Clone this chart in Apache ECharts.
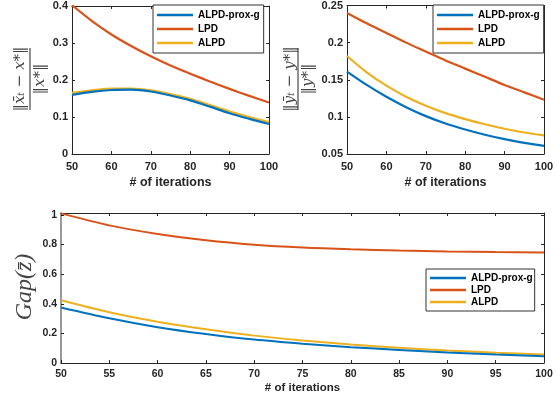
<!DOCTYPE html>
<html><head><meta charset="utf-8">
<script src="https://cdn.jsdelivr.net/npm/echarts@6/dist/echarts.min.js"></script>
<style>html,body{margin:0;padding:0;background:#fff}#c{width:557px;height:400px}</style>
</head><body><div id="c"></div>
<script>
const iters = [50,55,60,65,70,75,80,85,90,95,100];
const seriesNames = ['ALPD-prox-g','LPD','ALPD'];
const colors = ['#0072BD','#D95319','#EDB120'];
// top-left: ||x_t - x*|| / ||x*||
const xErrProxG = [0.160,0.168,0.173,0.174,0.169,0.158,0.145,0.128,0.110,0.095,0.081];
const xErrLPD   = [0.402,0.360,0.323,0.292,0.264,0.239,0.217,0.196,0.176,0.157,0.139];
const xErrALPD  = [0.165,0.172,0.177,0.177,0.172,0.162,0.149,0.132,0.115,0.100,0.086];
// top-right: ||y_t - y*|| / ||y*||
const yErrProxG = [0.161,0.143,0.127,0.113,0.101,0.091,0.083,0.076,0.070,0.065,0.061];
const yErrLPD   = [0.240,0.226,0.213,0.200,0.188,0.176,0.165,0.154,0.143,0.133,0.123];
const yErrALPD  = [0.182,0.160,0.142,0.127,0.115,0.105,0.097,0.090,0.084,0.079,0.075];
// bottom: Gap(z)
const gapProxG = [0.375,0.302,0.242,0.196,0.158,0.130,0.107,0.088,0.071,0.057,0.046];
const gapLPD   = [1.011,0.930,0.872,0.829,0.799,0.780,0.768,0.760,0.754,0.750,0.747];
const gapALPD  = [0.424,0.343,0.279,0.228,0.185,0.152,0.125,0.103,0.085,0.070,0.058];

const xTitle = '# of iterations';
const AX = '#262626';
const FONT = 'Liberation Sans, Arial, sans-serif';

function pairs(ys){ return iters.map((x,i)=>[x, ys[i]]); }

const grids = [
  {left:72, top:6, width:197, height:148},
  {left:347, top:5, width:197, height:149},
  {left:61, top:213, width:483, height:150}
];
const xCfg = [
  {min:50,max:100,interval:10,fs:11,margin:7,nameGap:22,nfs:12.5},
  {min:50,max:100,interval:10,fs:11,margin:7,nameGap:22,nfs:12.5},
  {min:50,max:100,interval:5,fs:10.5,margin:6,nameGap:19,nfs:11.5}
];
const yCfg = [
  {min:0,max:0.4,interval:0.1,fs:11},
  {min:0.05,max:0.25,interval:0.05,fs:11},
  {min:0,max:1.0135,interval:0.2,fs:10.5}
];

const xAxis = [], yAxis = [];
grids.forEach((g,i)=>{
  const xc = xCfg[i], yc = yCfg[i];
  xAxis.push({type:'value', gridIndex:i, position:'bottom', min:xc.min, max:xc.max, interval:xc.interval,
    name:xTitle, nameLocation:'middle', nameGap:xc.nameGap,
    nameTextStyle:{fontFamily:FONT, fontWeight:'bold', fontSize:xc.nfs, color:AX},
    axisLine:{show:true, lineStyle:{color:AX, width:1}},
    axisTick:{show:true, inside:true, length:3, lineStyle:{color:AX}},
    axisLabel:{fontFamily:FONT, fontWeight:'bold', fontSize:xc.fs, color:AX, margin:xc.margin},
    splitLine:{show:false}});
  xAxis.push({type:'value', gridIndex:i, position:'top', min:xc.min, max:xc.max, interval:xc.interval,
    axisLine:{show:true, onZero:false, lineStyle:{color:AX, width:1}},
    axisTick:{show:true, inside:true, length:3, lineStyle:{color:AX}},
    axisLabel:{show:false}, splitLine:{show:false}});
  yAxis.push({type:'value', gridIndex:i, position:'left', min:yc.min, max:yc.max, interval:yc.interval,
    axisLine:{show:true, onZero:false, lineStyle:{color: i===2 ? '#777' : AX, width: i===2 ? 1.5 : 1}},
    axisTick:{show:true, inside:true, length:3, lineStyle:{color:AX}},
    axisLabel:{fontFamily:FONT, fontWeight:'bold', fontSize:yc.fs, color:AX, margin:4,
      formatter:(v)=>{ const k=Math.round(v/yc.interval); if (Math.abs(k*yc.interval - v) > 1e-9) return ''; return String(+v.toFixed(2)); }},
    splitLine:{show:false}});
  yAxis.push({type:'value', gridIndex:i, position:'right', min:yc.min, max:yc.max, interval:yc.interval,
    axisLine:{show:true, onZero:false, lineStyle:{color:AX, width:1}},
    axisTick:{show:true, inside:true, length:3, lineStyle:{color:AX}},
    axisLabel:{show:false}, splitLine:{show:false}});
});

const dataSets = [
  [xErrProxG, xErrLPD, xErrALPD],
  [yErrProxG, yErrLPD, yErrALPD],
  [gapProxG, gapLPD, gapALPD]
];
const series = [];
dataSets.forEach((set,gi)=>{
  set.forEach((ys,si)=>{
    series.push({type:'line', name:seriesNames[si], xAxisIndex:gi*2, yAxisIndex:gi*2,
      data:pairs(ys), smooth:0.3, symbol:'none', showSymbol:false, silent:true, animation:false,
      lineStyle:{color:colors[si], width: gi===2 ? 2 : 2.2}, itemStyle:{color:colors[si]}, z: 3 - si});
  });
});

function legendFor(left, top, gap, pad){
  return {orient:'vertical', left:left, top:top, padding:pad, itemGap:gap,
    itemWidth:36, itemHeight:2.5, icon:'rect', data:seriesNames,
    backgroundColor:'#fff', borderColor:'#333', borderWidth:1, borderRadius:0,
    textStyle:{fontFamily:FONT, fontWeight:'bold', fontSize:10, color:'#000'},
    selectedMode:false};
}

const legends = [
  legendFor(153, 5, 4, [5,4,5,4]),
  legendFor(433, 5, 4, [5,4,5,4]),
  legendFor(426, 269, 2, [4,2,4,4])
];

const labelColor = '#444';
const serif = 'DejaVu Serif, Liberation Serif, serif';
function fraction(cx, cy, num, den, numOff, denOff, half){
  return {type:'group', x:cx, y:cy, rotation:Math.PI/2, silent:true, children:[
    {type:'text', x:0, y:numOff, style:{text:num, font:'italic 15px '+serif, fill:labelColor, align:'center', verticalAlign:'middle'}},
    {type:'line', shape:{x1:-half, y1:0, x2:half, y2:0}, style:{stroke:'#222', lineWidth:1}},
    {type:'text', x:0, y:denOff, style:{text:den, font:'italic 15px '+serif, fill:labelColor, align:'center', verticalAlign:'middle'}}
  ]};
}

const option = {
  backgroundColor:'#fff',
  animation:false,
  grid: grids.map(g=>Object.assign({containLabel:false}, g)),
  xAxis, yAxis, series,
  legend: legends,
  graphic: [
    fraction(30, 79, '\u2016x\u0304\u209C \u2212 x*\u2016', '\u2016x*\u2016', -10, 10, 31),
    fraction(298, 79, '\u2016y\u0304\u209C \u2212 y*\u2016', '\u2016y*\u2016', -8, 10, 31),
    {type:'text', x:25, y:287, rotation:Math.PI/2, silent:true,
      style:{text:'Gap(z\u0304)', font:'italic 24px Liberation Serif, serif', fill:labelColor, align:'center', verticalAlign:'middle'}}
  ]
};
const chart = echarts.init(document.getElementById('c'), null, {renderer:'canvas'});
chart.setOption(option);
</script></body></html>
